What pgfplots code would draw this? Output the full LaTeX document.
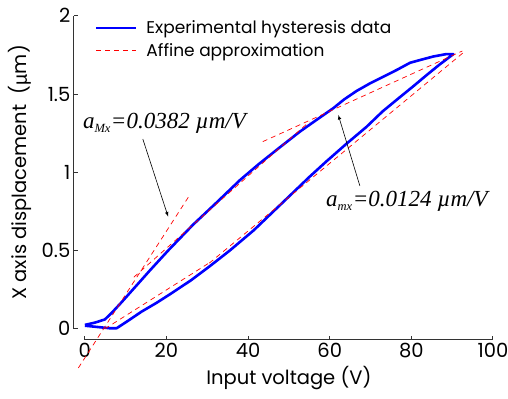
\documentclass[border=0pt]{standalone}
\usepackage{fontspec}
\setmainfont{Poppins}
\newfontfamily\timesfont{Liberation Serif}
\newfontfamily\symfont{Liberation Sans}
\usepackage{pgfplots}
\pgfplotsset{compat=1.18}
\begin{document}
\begin{tikzpicture}
\begin{axis}[
  scale only axis,
  width=408pt, height=313pt,
  xmin=0, xmax=100, ymin=0, ymax=2,
  axis x line=bottom, axis y line=left,
  axis line shift=11pt,
  axis line style={-, black!80, line width=1.1pt},
  x axis line style={-}, y axis line style={-},
  xtick={0,20,40,60,80,100},
  ytick={0,0.5,1,1.5,2},
  yticklabels={0,0.5,1,1.5,2},
  tick style={black!80, line width=1pt},
  major tick length=4pt,
  tick align=inside,
  ticklabel style={font=\fontsize{19.5}{21}\selectfont},
  /pgf/number format/assume math mode=true,
  xlabel={Input voltage (V)},
  ylabel={X axis displacement\ \ ({\symfont µ}m)},
  label style={font=\fontsize{19.5}{21}\selectfont},
  xlabel shift=1pt,
  ylabel shift=3pt,
  clip=false,
  legend style={at={(0.024,0.991)}, anchor=north west, draw=none, fill=none,
     font=\fontsize{17}{20}\selectfont, row sep=4pt, inner sep=0pt},
  legend cell align=left,
  legend image code/.code={\draw[#1] (0pt,0pt) -- (40pt,0pt); \path (47pt,0pt);},
]
\coordinate (bbl) at (axis cs:-20.8,-0.447);
\coordinate (btr) at (axis cs:103.7,2.101);
\addplot[blue, line width=2.6pt, line join=round] coordinates {
(0,0.02) (3,0.012) (6,0.004) (7.8,0.004) (10.5,0.05) (13.9,0.11) (17.5,0.165)
(20.8,0.22) (26,0.31) (30.6,0.40) (35.5,0.50) (41.4,0.63) (46.2,0.75) (51,0.87)
(55,0.97) (59.2,1.07) (64,1.18) (69,1.29) (73,1.39) (77.2,1.48) (80.5,1.55)
(83.7,1.62) (87,1.69) (90.3,1.755)
(88.5,1.755) (85.4,1.74) (82.5,1.72) (79.7,1.70) (76.5,1.655) (73.1,1.61)
(70,1.57) (66.6,1.52) (63.5,1.465) (60.9,1.41) (56.5,1.33) (52.7,1.26)
(47.8,1.16) (42.5,1.05) (38,0.95) (32,0.80) (26.5,0.665) (20.4,0.50) (16,0.375)
(13.1,0.29) (9,0.17) (6.5,0.10) (4.9,0.06) (2.5,0.04) (0,0.025)
};
\addlegendentry{Experimental hysteresis data}
\addplot[red, line width=0.7pt, dash pattern=on 5pt off 4pt] coordinates {(-1.6,-0.25) (25.7,0.855)};
\addlegendentry{Affine approximation}
\addplot[red, line width=0.7pt, dash pattern=on 5pt off 4pt, forget plot] coordinates {(12,0.33) (55,1.323)};
\addplot[red, line width=0.7pt, dash pattern=on 5pt off 4pt, forget plot] coordinates {(43.6,1.196) (92.5,1.775)};
\addplot[red, line width=0.7pt, dash pattern=on 5pt off 4pt, forget plot] coordinates {(4.9,0.0) (31,0.43)};
\addplot[red, line width=0.7pt, dash pattern=on 5pt off 4pt, forget plot] coordinates {(30.5,0.42) (93,1.77)};
\draw[-latex, black, line width=0.6pt] (axis cs:14.2,1.213) -- (axis cs:20.4,0.717);
\draw[-latex, black, line width=0.6pt] (axis cs:67.4,0.913) -- (axis cs:62.1,1.367);
\node[anchor=base west, inner sep=0pt, font=\timesfont\itshape\fontsize{23}{25}\selectfont] at (axis cs:-0.5,1.28) {a\textsubscript{\fontsize{12.5}{12.5}\selectfont Mx}=0.0382 µm/V};
\node[anchor=base west, inner sep=0pt, font=\timesfont\itshape\fontsize{23}{25}\selectfont] at (axis cs:59.1,0.78) {a\textsubscript{\fontsize{12.5}{12.5}\selectfont mx}=0.0124 µm/V};
\end{axis}
\pgfresetboundingbox
\path[use as bounding box] (bbl) rectangle (btr);
\end{tikzpicture}
\end{document}
